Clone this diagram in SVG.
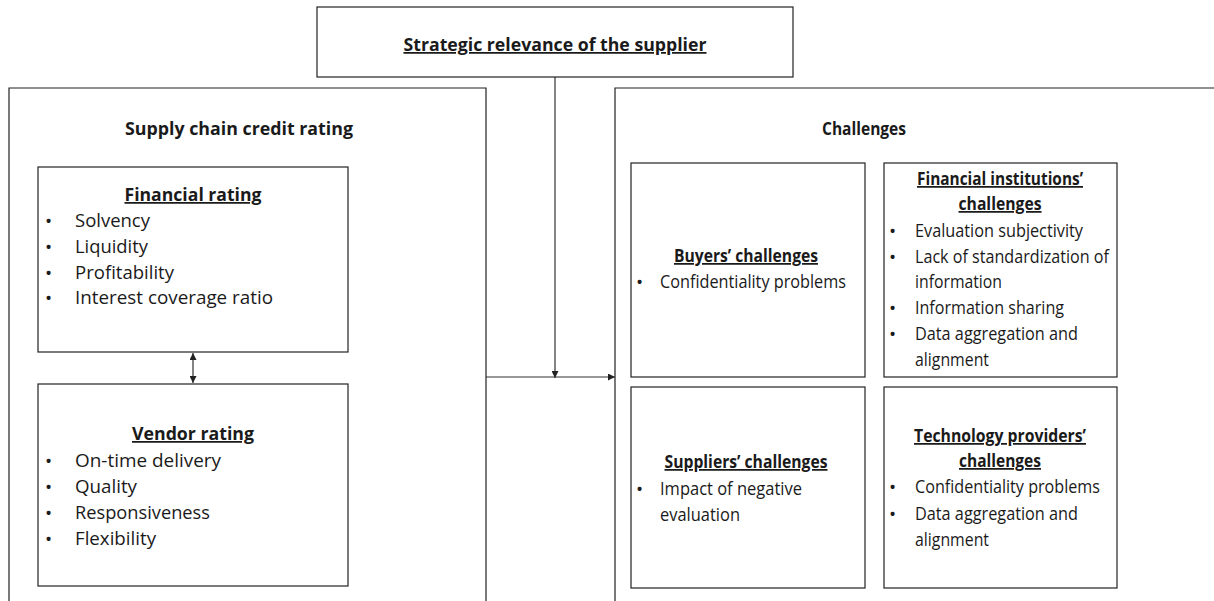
<svg xmlns="http://www.w3.org/2000/svg" width="1214" height="601" viewBox="0 0 1214 601">
<style>
.box{fill:#fff;stroke:#222;stroke-width:1.2}
.open{fill:none;stroke:#222;stroke-width:1.2}
.conn{fill:none;stroke:#333;stroke-width:1.2}
text{font-family:"Open Sans","Liberation Sans",sans-serif;fill:#1a1a1a}
.t{font-size:17.5px;font-weight:bold;text-anchor:middle}
.u{text-decoration:underline}
.i{font-size:17.5px}
.b{font-size:19px}
</style>
<defs>
<marker id="ah" viewBox="0 0 10 10" refX="10" refY="5" markerWidth="7" markerHeight="7" orient="auto-start-reverse" markerUnits="userSpaceOnUse">
<path d="M0,0 L10,5 L0,10 z" fill="#222"/>
</marker>
</defs>
<g id="connectors">
<line class="conn" x1="555" y1="77" x2="555" y2="378" marker-end="url(#ah)"/>
<line class="conn" x1="486" y1="377" x2="615" y2="377" marker-end="url(#ah)"/>
<line class="conn" x1="193" y1="353" x2="193" y2="383" marker-start="url(#ah)" marker-end="url(#ah)"/>
</g>
<g id="strategic">
<rect class="box" x="317" y="7" width="476" height="70"/>
<text class="t u" x="555" y="51" textLength="303" lengthAdjust="spacingAndGlyphs">Strategic relevance of the supplier</text>
</g>
<g id="credit-rating">
<path class="open" d="M9,601 V88 H486 V601"/>
<text class="t" x="239" y="135" textLength="228" lengthAdjust="spacingAndGlyphs">Supply chain credit rating</text>
</g>
<g id="financial-rating">
<rect class="box" x="38" y="167" width="310" height="185"/>
<text class="t u" x="193" y="201" textLength="137" lengthAdjust="spacingAndGlyphs">Financial rating</text>
<text class="b" x="45" y="228">•</text><text class="i" x="75" y="227" textLength="75" lengthAdjust="spacingAndGlyphs">Solvency</text>
<text class="b" x="45" y="254">•</text><text class="i" x="75" y="253" textLength="73" lengthAdjust="spacingAndGlyphs">Liquidity</text>
<text class="b" x="45" y="280">•</text><text class="i" x="75" y="279" textLength="99" lengthAdjust="spacingAndGlyphs">Profitability</text>
<text class="b" x="45" y="305">•</text><text class="i" x="75" y="304" textLength="198" lengthAdjust="spacingAndGlyphs">Interest coverage ratio</text>
</g>
<g id="vendor-rating">
<rect class="box" x="38" y="384" width="310" height="202"/>
<text class="t u" x="193" y="440" textLength="122" lengthAdjust="spacingAndGlyphs">Vendor rating</text>
<text class="b" x="45" y="468">•</text><text class="i" x="75" y="467" textLength="146" lengthAdjust="spacingAndGlyphs">On-time delivery</text>
<text class="b" x="45" y="494">•</text><text class="i" x="75" y="493" textLength="62" lengthAdjust="spacingAndGlyphs">Quality</text>
<text class="b" x="45" y="520">•</text><text class="i" x="75" y="519" textLength="135" lengthAdjust="spacingAndGlyphs">Responsiveness</text>
<text class="b" x="45" y="546">•</text><text class="i" x="75" y="545" textLength="81" lengthAdjust="spacingAndGlyphs">Flexibility</text>
</g>
<g id="challenges">
<path class="open" d="M615,601 V88 H1214"/>
<text class="t" x="864" y="135" textLength="84" lengthAdjust="spacingAndGlyphs">Challenges</text>
</g>
<g id="buyers">
<rect class="box" x="631" y="163" width="234" height="214"/>
<text class="t u" x="746" y="262" textLength="144" lengthAdjust="spacingAndGlyphs">Buyers’ challenges</text>
<text class="b" x="636" y="289">•</text><text class="i" x="660" y="288" textLength="186" lengthAdjust="spacingAndGlyphs">Confidentiality problems</text>
</g>
<g id="financial-institutions">
<rect class="box" x="884" y="163" width="233" height="214"/>
<text class="t u" x="1000" y="185" textLength="166" lengthAdjust="spacingAndGlyphs">Financial institutions’</text>
<text class="t u" x="1000" y="210" textLength="83" lengthAdjust="spacingAndGlyphs">challenges</text>
<text class="b" x="889" y="238">•</text><text class="i" x="915" y="237" textLength="168" lengthAdjust="spacingAndGlyphs">Evaluation subjectivity</text>
<text class="b" x="889" y="264">•</text><text class="i" x="915" y="263" textLength="194" lengthAdjust="spacingAndGlyphs">Lack of standardization of</text>
<text class="i" x="915" y="288" textLength="87" lengthAdjust="spacingAndGlyphs">information</text>
<text class="b" x="889" y="315">•</text><text class="i" x="915" y="314" textLength="149" lengthAdjust="spacingAndGlyphs">Information sharing</text>
<text class="b" x="889" y="341">•</text><text class="i" x="915" y="340" textLength="163" lengthAdjust="spacingAndGlyphs">Data aggregation and</text>
<text class="i" x="915" y="366" textLength="74" lengthAdjust="spacingAndGlyphs">alignment</text>
</g>
<g id="suppliers">
<rect class="box" x="631" y="387" width="234" height="201"/>
<text class="t u" x="746" y="468" textLength="163" lengthAdjust="spacingAndGlyphs">Suppliers’ challenges</text>
<text class="b" x="636" y="496">•</text><text class="i" x="660" y="495" textLength="142" lengthAdjust="spacingAndGlyphs">Impact of negative</text>
<text class="i" x="660" y="521" textLength="80" lengthAdjust="spacingAndGlyphs">evaluation</text>
</g>
<g id="technology-providers">
<rect class="box" x="884" y="387" width="233" height="201"/>
<text class="t u" x="1000" y="442" textLength="172" lengthAdjust="spacingAndGlyphs">Technology providers’</text>
<text class="t u" x="1000" y="467" textLength="82" lengthAdjust="spacingAndGlyphs">challenges</text>
<text class="b" x="889" y="494">•</text><text class="i" x="915" y="493" textLength="185" lengthAdjust="spacingAndGlyphs">Confidentiality problems</text>
<text class="b" x="889" y="521">•</text><text class="i" x="915" y="520" textLength="163" lengthAdjust="spacingAndGlyphs">Data aggregation and</text>
<text class="i" x="915" y="546" textLength="74" lengthAdjust="spacingAndGlyphs">alignment</text>
</g>
</svg>
